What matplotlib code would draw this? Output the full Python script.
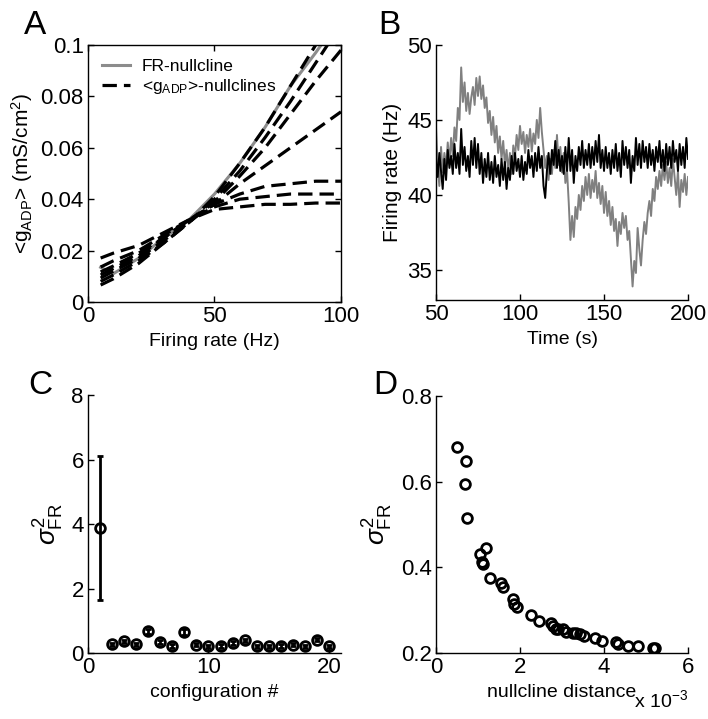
import matplotlib
matplotlib.use("Agg")
import matplotlib.pyplot as plt

plt.rcParams['font.family'] = ['Liberation Sans', 'DejaVu Sans']
plt.rcParams['mathtext.fontset'] = 'custom'
plt.rcParams['mathtext.rm'] = 'Liberation Sans'
plt.rcParams['mathtext.it'] = 'Liberation Sans:italic'
plt.rcParams['mathtext.sf'] = 'Liberation Sans'
plt.rcParams['font.size'] = 14
plt.rcParams['axes.linewidth'] = 1.0

# ---- panel A: nullclines ----
fr_x = [5, 10, 20, 30, 40, 50, 60, 70, 80, 90, 95]
fr_y = [0.0135, 0.011, 0.017, 0.025, 0.032, 0.042, 0.054, 0.068, 0.084, 0.097, 0.104]

g_x = [5, 10, 20, 30, 40, 50, 60, 70, 80, 90, 100]
g_steep1 = [0.0066, 0.009, 0.015, 0.023, 0.031, 0.041, 0.054, 0.068, 0.084, 0.100, 0.118]
g_steep2 = [0.008, 0.0105, 0.016, 0.023, 0.031, 0.040, 0.051, 0.064, 0.078, 0.093, 0.108]
g_steep3 = [0.0093, 0.012, 0.017, 0.024, 0.031, 0.039, 0.049, 0.060, 0.073, 0.086, 0.098]
g_mid = [0.0105, 0.013, 0.018, 0.025, 0.032, 0.038, 0.046, 0.053, 0.060, 0.067, 0.074]
g_flat1 = [0.0117, 0.014, 0.019, 0.025, 0.032, 0.038, 0.042, 0.045, 0.046, 0.047, 0.047]
g_flat2 = [0.0136, 0.016, 0.020, 0.026, 0.032, 0.037, 0.040, 0.041, 0.042, 0.042, 0.042]
g_flat3 = [0.0171, 0.019, 0.022, 0.027, 0.032, 0.036, 0.037, 0.038, 0.038, 0.0385, 0.0385]

# ---- panel B: firing rate traces (t = 50..200 s, 1 s steps) ----
t_start, t_end = 50, 200
rate_gray = [
    44.5, 42.0, 40.6, 43.2, 41.5, 42.8, 41.8, 43.5, 42.2, 43.8,
    42.6, 44.5, 43.6, 45.8, 45.0, 48.5, 46.2, 47.5, 45.6, 46.8,
    45.4, 46.5, 47.2, 46.0, 47.8, 46.6, 47.9, 46.4, 47.3, 45.8,
    46.5, 44.8, 45.6, 44.0, 45.2, 43.5, 44.6, 42.8, 43.9, 42.4,
    43.6, 42.0, 43.0, 41.6, 42.8, 41.4, 43.3, 42.5, 44.0, 43.0,
    44.6, 43.4, 44.2, 42.8, 44.0, 43.2, 44.4, 42.9, 44.1, 43.4,
    45.0, 43.8, 45.8, 44.2, 43.0, 41.8, 42.6, 41.0, 42.4, 41.4,
    43.0, 41.8, 44.0, 42.0, 43.2, 41.5, 42.8, 40.8, 41.6, 39.5,
    37.0, 38.6, 37.2, 39.2, 38.4, 40.0, 39.0, 40.6, 39.6, 41.2,
    40.0, 41.4, 39.8, 41.0, 40.2, 41.6, 39.8, 40.8, 39.4, 40.6,
    38.8, 40.2, 38.6, 39.6, 38.0, 39.2, 37.6, 38.4, 36.6, 38.2,
    37.4, 38.8, 37.8, 38.6, 37.0, 37.6, 35.8, 33.9, 35.6, 34.8,
    37.8, 36.4, 35.3, 37.0, 38.2, 37.4, 38.8, 39.6, 38.6, 40.4,
    39.6, 41.2, 40.4, 41.6, 40.6, 42.0, 41.0, 42.2, 40.8, 41.8,
    40.6, 42.4, 41.2, 40.0, 41.6, 39.2, 41.0, 40.2, 41.4, 40.0,
    41.2,
]
rate_black = [
    42.5, 41.2, 42.8, 41.6, 40.4, 42.4, 41.0, 43.0, 41.8, 42.6,
    41.4, 43.4, 41.8, 42.8, 41.4, 44.4, 42.0, 43.2, 41.6, 42.6,
    41.2, 43.6, 42.0, 43.8, 41.8, 43.4, 41.4, 42.8, 40.8, 42.4,
    41.2, 42.8, 41.0, 42.2, 40.8, 42.6, 41.2, 42.0, 40.6, 42.4,
    41.0, 42.2, 40.4, 41.8, 41.0, 42.6, 41.4, 42.8, 41.6, 42.4,
    41.2, 42.6, 41.0, 42.2, 41.4, 43.0, 41.8, 42.6, 41.2, 42.8,
    41.6, 43.2, 41.8, 42.6, 40.6, 39.8, 41.6, 42.8, 41.4, 43.0,
    42.0, 43.6, 41.8, 43.0, 41.6, 42.6, 41.4, 43.2, 41.6, 43.8,
    41.6, 43.0, 40.8, 42.6, 41.6, 43.2, 42.0, 43.6, 41.8, 43.0,
    42.0, 43.4, 41.8, 43.2, 42.0, 43.6, 42.2, 44.0, 41.8, 43.0,
    41.6, 43.2, 41.8, 42.8, 41.4, 43.0, 41.8, 43.4, 41.6, 42.8,
    41.2, 43.6, 42.0, 43.2, 41.8, 43.0, 40.8, 42.6, 41.6, 43.8,
    42.0, 43.4, 41.8, 43.6, 42.2, 43.2, 41.8, 43.4, 42.0, 43.0,
    41.6, 43.2, 42.2, 43.6, 41.8, 43.0, 41.6, 43.4, 42.0, 43.2,
    41.8, 43.6, 42.2, 43.0, 41.6, 43.4, 42.0, 43.2, 41.8, 43.8,
    42.4,
]
time_s = list(range(t_start, t_end + 1))

# ---- panel C: variance per configuration ----
config = list(range(1, 21))
var_fr = [3.87, 0.27, 0.36, 0.27, 0.67, 0.34, 0.22, 0.65, 0.26, 0.21,
          0.22, 0.31, 0.39, 0.21, 0.21, 0.22, 0.26, 0.21, 0.41, 0.21]
var_err = [2.24, 0.05, 0.05, 0.05, 0.08, 0.05, 0.05, 0.08, 0.05, 0.05,
           0.05, 0.05, 0.05, 0.05, 0.05, 0.05, 0.05, 0.05, 0.05, 0.05]

# ---- panel D: variance vs nullcline distance (x 1e-3) ----
dist = [0.51, 0.71, 0.69, 0.75, 1.05, 1.19, 1.09, 1.13, 1.28, 1.54,
        1.60, 1.84, 1.86, 1.92, 2.26, 2.45, 2.73, 2.79, 2.85, 2.91,
        3.03, 3.09, 3.27, 3.33, 3.43, 3.52, 3.78, 3.96, 4.28, 4.34,
        4.58, 4.81, 5.17, 5.21]
var_d = [0.680, 0.649, 0.594, 0.516, 0.432, 0.444, 0.413, 0.407, 0.376, 0.364,
         0.354, 0.327, 0.315, 0.308, 0.288, 0.275, 0.270, 0.263, 0.257, 0.255,
         0.255, 0.249, 0.247, 0.247, 0.244, 0.239, 0.235, 0.227, 0.226, 0.222,
         0.216, 0.216, 0.212, 0.212]

gray = (0.55, 0.55, 0.55)
sigma_label = r'$\sigma^2_{\rm FR}$'

fig = plt.figure(figsize=(7.08, 7.19), dpi=100)
axA = fig.add_axes([0.1243, 0.58, 0.3573, 0.3574])
axB = fig.add_axes([0.6158, 0.5828, 0.356, 0.3547])
axC = fig.add_axes([0.1243, 0.0918, 0.3573, 0.3588])
axD = fig.add_axes([0.6158, 0.0918, 0.356, 0.3574])

for ax in (axA, axB, axC, axD):
    ax.tick_params(direction='in', length=4, width=1, labelsize=16, pad=3)
for ax in (axB, axC, axD):
    ax.spines['top'].set_visible(False)
    ax.spines['right'].set_visible(False)
axA.tick_params(top=True, right=True)

# A
axA.plot(fr_x, fr_y, color=gray, lw=2.2, label='FR-nullcline')
dash = (0, (4.5, 2.2))
curves = [g_steep1, g_steep2, g_steep3, g_mid, g_flat1, g_flat2, g_flat3]
for i, gy in enumerate(curves):
    axA.plot(g_x, gy, color='black', lw=2.3, linestyle=dash,
             label=r'<g$_{\rm ADP}$>-nullclines' if i == 0 else None)
axA.set_xlim(0, 100)
axA.set_ylim(0, 0.1)
axA.set_xticks([0, 50, 100])
axA.set_yticks([0, 0.02, 0.04, 0.06, 0.08, 0.1])
axA.set_yticklabels(['0', '0.02', '0.04', '0.06', '0.08', '0.1'])
axA.set_xlabel('Firing rate (Hz)', fontsize=14)
axA.set_ylabel(r'<g$_{\rm ADP}$> (mS/cm$^2$)', fontsize=15)
axA.legend(loc='upper left', frameon=False, fontsize=12.5, handlelength=1.6,
           borderaxespad=0.5, labelspacing=0.15, handletextpad=0.7,
           borderpad=0.3)

# B
axB.plot(time_s, rate_gray, color=(0.5, 0.5, 0.5), lw=1.4)
axB.plot(time_s, rate_black, color='black', lw=1.4)
axB.set_xlim(50, 200)
axB.set_ylim(33, 50)
axB.set_xticks([50, 100, 150, 200])
axB.set_yticks([35, 40, 45, 50])
axB.set_xlabel('Time (s)', fontsize=14)
axB.set_ylabel('Firing rate (Hz)', fontsize=15)

# C
axC.errorbar(config, var_fr, yerr=var_err, fmt='o', color='black', mfc='none',
             mec='black', ms=7, mew=2, elinewidth=2, capsize=2, capthick=2)
axC.set_xlim(0, 21)
axC.set_ylim(0, 8)
axC.set_xticks([0, 10, 20])
axC.set_yticks([0, 2, 4, 6, 8])
axC.set_xlabel('configuration #', fontsize=14)
axC.set_ylabel(sigma_label, fontsize=19)

# D
axD.plot(dist, var_d, 'o', mfc='none', mec='black', ms=7, mew=2)
axD.set_xlim(0, 6)
axD.set_ylim(0.2, 0.8)
axD.set_xticks([0, 2, 4, 6])
axD.set_yticks([0.2, 0.4, 0.6, 0.8])
axD.set_xlabel('nullcline distance', fontsize=14)
axD.set_ylabel(sigma_label, fontsize=19)
axD.text(1.0, -0.14, r'x 10$^{-3}$', transform=axD.transAxes, ha='right',
         va='top', fontsize=14)

# panel letters
for lab, (px, py) in zip('ABCD', [(24, 34), (378, 34), (28, 394), (373, 394)]):
    fig.text(px / 708, 1 - py / 719, lab, fontsize=24, ha='left', va='baseline')

fig.savefig('out.png', dpi=100)
